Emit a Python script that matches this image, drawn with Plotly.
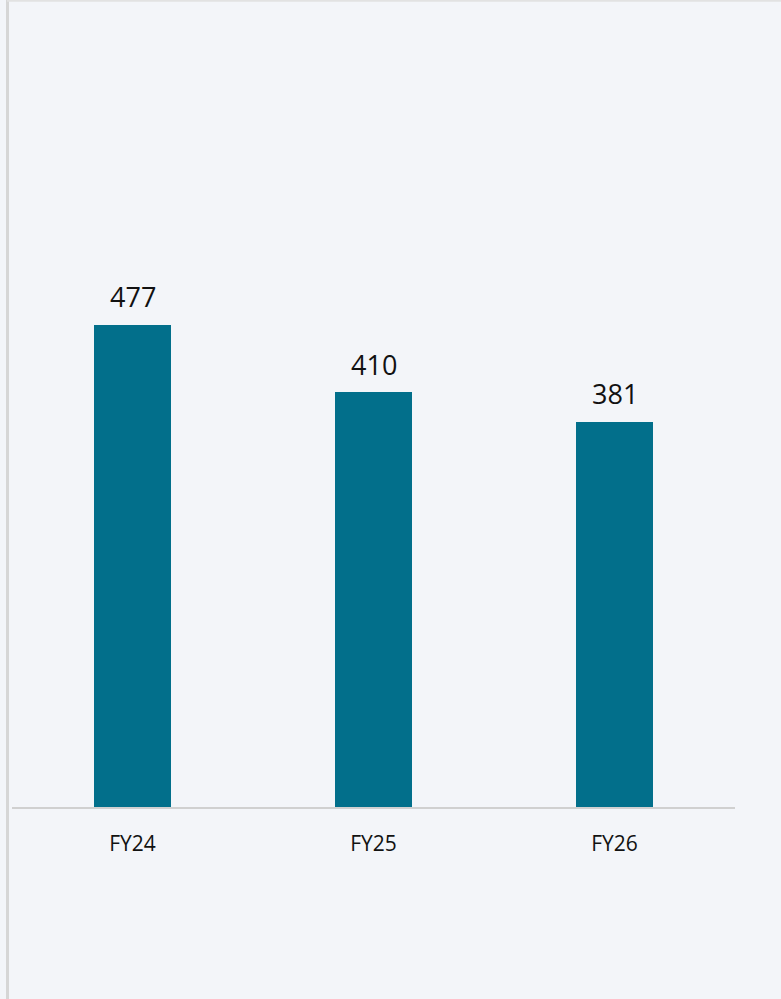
import plotly.graph_objects as go

categories = ["FY24", "FY25", "FY26"]
values = [477, 410, 381]
value_labels = ["477", "410", "381"]

W, H = 781, 999
BAR_COLOR = "#026F8B"
BG = "#F3F5F9"

fig = go.Figure()
fig.add_trace(go.Bar(
    x=categories, y=values,
    marker=dict(color=BAR_COLOR, line=dict(width=0)),
    width=0.32,
    hoverinfo="skip",
))

for c, v, t in zip(categories, values, value_labels):
    fig.add_annotation(
        x=c, y=v, text=t, showarrow=False,
        xanchor="center", yanchor="bottom", yshift=7,
        font=dict(family="Open Sans", size=27, color="#111111"),
    )

# frame lines (left and top)
fig.add_shape(type="line", xref="paper", yref="paper",
              x0=7.5 / W, x1=7.5 / W, y0=0, y1=1,
              line=dict(color="#D6D6D6", width=3), layer="below")
fig.add_shape(type="line", xref="paper", yref="paper",
              x0=7 / W, x1=1, y0=1 - 0.8 / H, y1=1 - 0.8 / H,
              line=dict(color="#E2E2E2", width=2), layer="below")

y_bottom = (H - 807) / H
y_top = (H - 199.5) / H

fig.update_layout(
    width=W, height=H,
    margin=dict(l=0, r=0, t=0, b=0),
    paper_bgcolor=BG, plot_bgcolor="rgba(0,0,0,0)",
    showlegend=False,
    bargap=0,
    xaxis=dict(
        domain=[12 / W, 735 / W],
        showline=True, linecolor="#D0D0D0", linewidth=1.5,
        showgrid=False, zeroline=False,
        ticks="", ticklabelstandoff=17,
        tickfont=dict(family="Open Sans", size=21, color="#111111"),
        fixedrange=True,
    ),
    yaxis=dict(
        domain=[y_bottom, y_top],
        range=[0, 600],
        visible=False, showgrid=False, zeroline=False,
        fixedrange=True,
    ),
)

fig.write_html(
    "out.html",
    config={"displayModeBar": False},
    post_script="document.body.style.margin='0';document.body.style.overflow='hidden';",
)
